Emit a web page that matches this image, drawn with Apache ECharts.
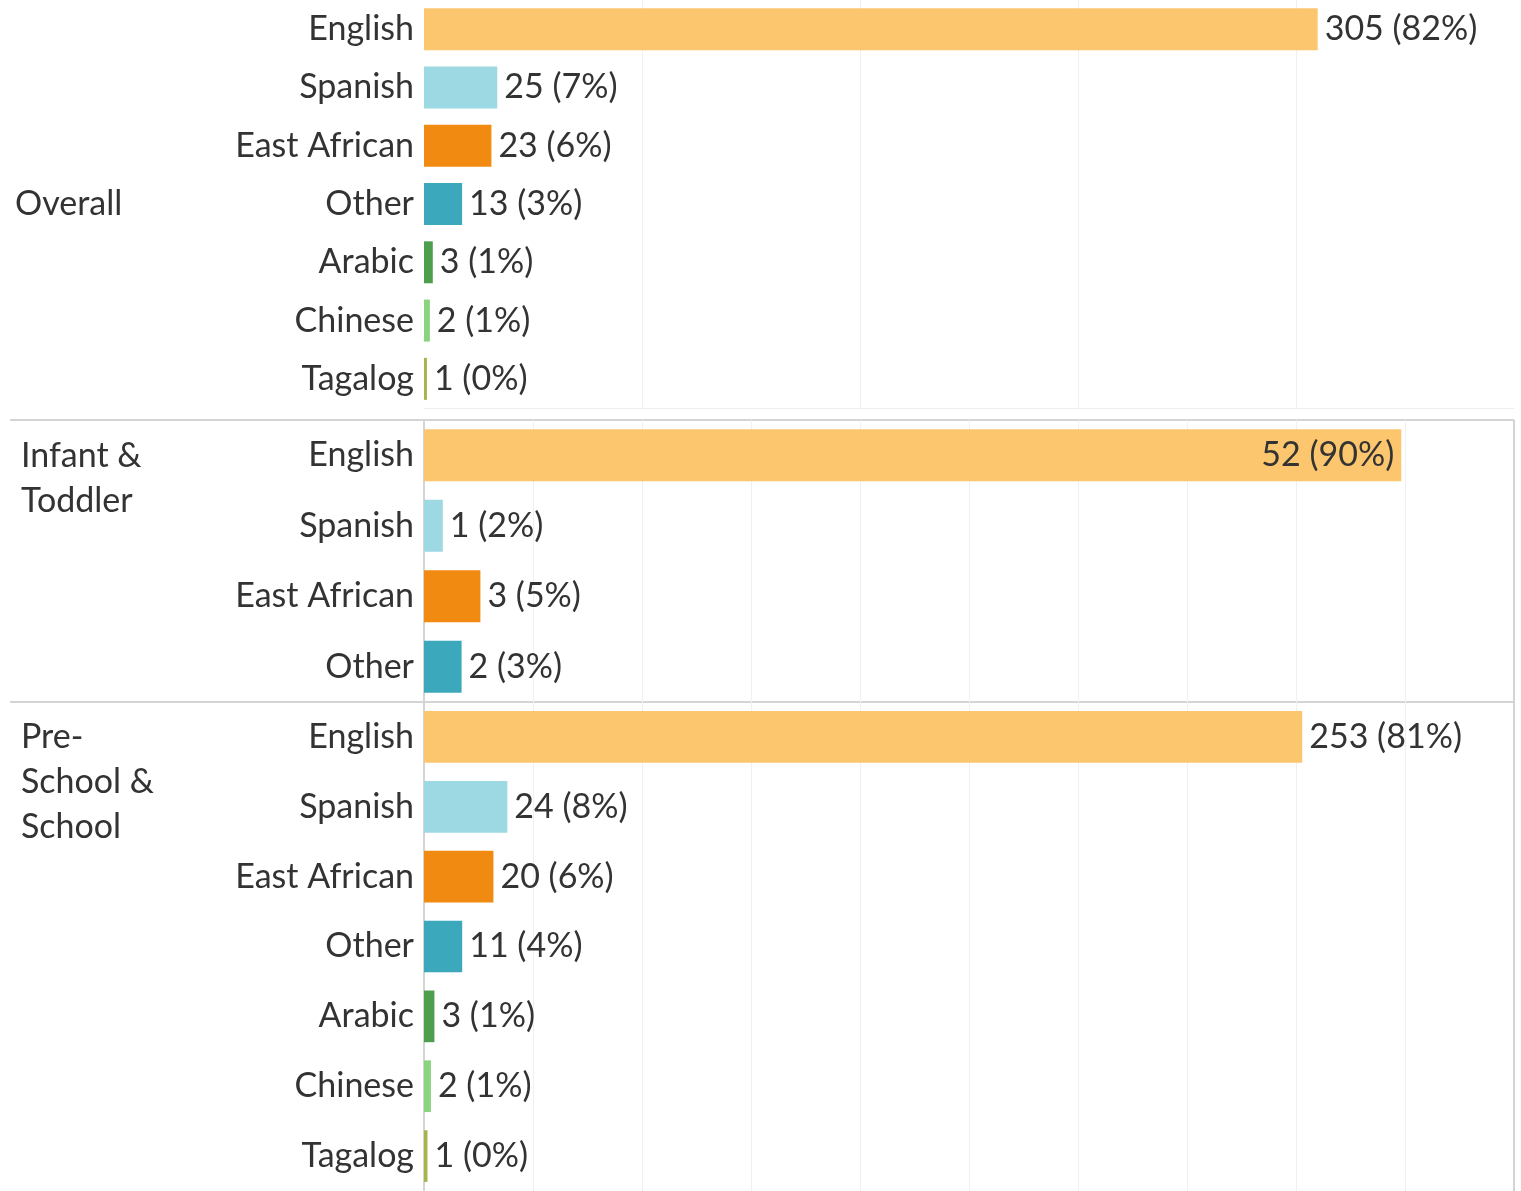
<!DOCTYPE html>
<html>
<head>
<meta charset="utf-8">
<script src="https://cdn.jsdelivr.net/npm/echarts@6/dist/echarts.min.js"></script>
<style>
  html, body { margin: 0; padding: 0; background: #fff; }
  #main { width: 1521px; height: 1191px; }
</style>
</head>
<body>
<div id="main"></div>
<script>
// 各组的语言与人数
const groups = ['Overall', 'Infant &\nToddler', 'Pre-\nSchool &\nSchool'];
const overallLangs = ['English', 'Spanish', 'East African', 'Other', 'Arabic', 'Chinese', 'Tagalog'];
const overallCounts = [305, 25, 23, 13, 3, 2, 1];
const infantLangs = ['English', 'Spanish', 'East African', 'Other'];
const infantCounts = [52, 1, 3, 2];
const schoolLangs = ['English', 'Spanish', 'East African', 'Other', 'Arabic', 'Chinese', 'Tagalog'];
const schoolCounts = [253, 24, 20, 11, 3, 2, 1];

const langColors = {
  'English': '#fcc66e',
  'Spanish': '#9cd9e3',
  'East African': '#f08a10',
  'Other': '#3ba8bc',
  'Arabic': '#4e9e4e',
  'Chinese': '#8ad47e',
  'Tagalog': '#a8b44a'
};

const FONT = 'Lato';
const FSIZE = 34;
const TEXT = '#333333';

// 三个面板的位置
const panels = [
  { langs: overallLangs, counts: overallCounts, top: 0, height: 408, step: 20, barPct: '72%', labelY: 204 },
  { langs: infantLangs, counts: infantCounts, top: 420, height: 282, step: 10, barPct: '74%', labelY: 456 },
  { langs: schoolLangs, counts: schoolCounts, top: 702, height: 492, step: 10, barPct: '74%', labelY: 737 }
];

const grid = panels.map(p => ({ left: 424, right: 7, top: p.top, height: p.height }));

const xAxis = panels.map((p, i) => ({
  type: 'value',
  gridIndex: i,
  min: 0,
  max: 100,
  interval: p.step,
  axisLabel: { show: false },
  axisTick: { show: false },
  axisLine: { show: i === 0, lineStyle: { color: '#eeeeee', width: 1 } },
  splitLine: { show: true, showMinLine: false, showMaxLine: false, lineStyle: { color: '#f0f0f0', width: 1 } }
}));

const yAxis = panels.map((p, i) => ({
  type: 'category',
  gridIndex: i,
  inverse: true,
  data: p.langs,
  axisTick: { show: false },
  axisLine: { show: i > 0, lineStyle: { color: '#d4d4d4', width: 2 } },
  axisLabel: { color: TEXT, fontFamily: FONT, fontSize: FSIZE, margin: 10 }
}));

const series = panels.map((p, i) => {
  const total = p.counts.reduce((a, b) => a + b, 0);
  return {
    type: 'bar',
    xAxisIndex: i,
    yAxisIndex: i,
    barWidth: p.barPct,
    silent: true,
    data: p.counts.map((c, j) => {
      const share = c / total * 100;
      return {
        value: share,
        count: c,
        itemStyle: { color: langColors[p.langs[j]] },
        label: { position: share > 85 ? 'insideRight' : 'right' }
      };
    }),
    label: {
      show: true,
      color: TEXT,
      fontFamily: FONT,
      fontSize: FSIZE,
      distance: 7,
      formatter: (d) => `${d.data.count} (${Math.round(d.value)}%)`
    }
  };
});

const graphic = [
  { type: 'line', shape: { x1: 10, y1: 420, x2: 1514, y2: 420 }, style: { stroke: '#d4d4d4', lineWidth: 2 } },
  { type: 'line', shape: { x1: 10, y1: 702, x2: 1514, y2: 702 }, style: { stroke: '#d4d4d4', lineWidth: 2 } },
  { type: 'line', shape: { x1: 1514, y1: 420, x2: 1514, y2: 1191 }, style: { stroke: '#d4d4d4', lineWidth: 2 } }
];
panels.forEach((p, i) => {
  graphic.push({
    type: 'text',
    left: i === 0 ? 15 : 21,
    top: p.labelY - 22,
    style: {
      text: groups[i],
      fill: TEXT,
      font: `${FSIZE}px ${FONT}`,
      lineHeight: 45
    }
  });
});

const myChart = echarts.init(document.getElementById('main'));
myChart.setOption({
  animation: false,
  grid,
  xAxis,
  yAxis,
  series,
  graphic
});
</script>
</body>
</html>
